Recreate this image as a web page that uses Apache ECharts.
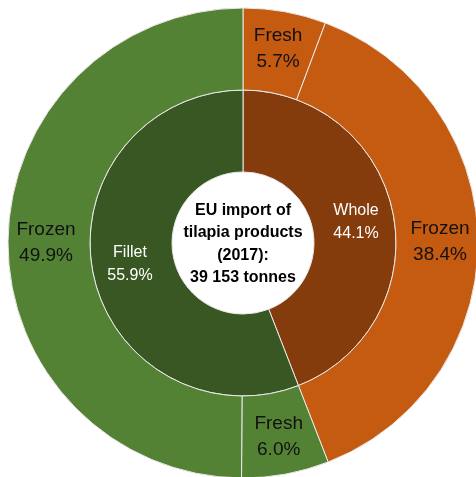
<!DOCTYPE html>
<html>
<head>
<meta charset="utf-8">
<script src="https://cdn.jsdelivr.net/npm/echarts@6/dist/echarts.min.js"></script>
<style>html,body{margin:0;padding:0;background:#fff;}#c{width:476px;height:477px;}</style>
</head>
<body>
<div id="c"></div>
<script>
const innerNames = ['Whole', 'Fillet'];
const innerValues = [44.1, 55.9];
const innerColors = ['#843C0C', '#385723'];
const outerNames = ['Fresh', 'Frozen', 'Fresh', 'Frozen'];
const outerValues = [5.7, 38.4, 6.0, 49.9];
const outerColors = ['#C55A11', '#C55A11', '#548235', '#548235'];
const centerLines = ['EU import of', 'tilapia products', '(2017):', '39 153 tonnes'];

const chart = echarts.init(document.getElementById('c'), null, {renderer: 'canvas'});
const fmt = p => p.name + '\n' + p.value.toFixed(1) + '%';
chart.setOption({
  animation: false,
  series: [
    {
      type: 'pie',
      center: [243, 243],
      radius: [71, 153],
      startAngle: 90,
      clockwise: true,
      silent: true,
      label: {position: 'inside', formatter: fmt, color: '#ffffff', fontFamily: 'Liberation Sans', fontSize: 16, lineHeight: 23},
      labelLine: {show: false},
      itemStyle: {borderColor: '#e8e8e8', borderWidth: 1},
      data: innerNames.map((n, i) => ({name: n, value: innerValues[i], itemStyle: {color: innerColors[i]}}))
    },
    {
      type: 'pie',
      center: [243, 243],
      radius: [153, 235],
      startAngle: 90,
      clockwise: true,
      silent: true,
      label: {position: 'inside', formatter: fmt, color: '#111111', fontFamily: 'Liberation Sans', fontSize: 19, lineHeight: 26},
      labelLine: {show: false},
      itemStyle: {borderColor: '#e8e8e8', borderWidth: 1},
      data: outerNames.map((n, i) => ({name: n, value: outerValues[i], itemStyle: {color: outerColors[i]}}))
    }
  ],
  graphic: [{
    type: 'text',
    x: 243, y: 244,
    z: 100,
    style: {
      text: centerLines.join('\n'),
      align: 'center',
      verticalAlign: 'middle',
      fill: '#000000',
      fontFamily: 'Liberation Sans',
      fontWeight: 'bold',
      fontSize: 16,
      lineHeight: 22.5
    }
  }]
});
</script>
</body>
</html>
